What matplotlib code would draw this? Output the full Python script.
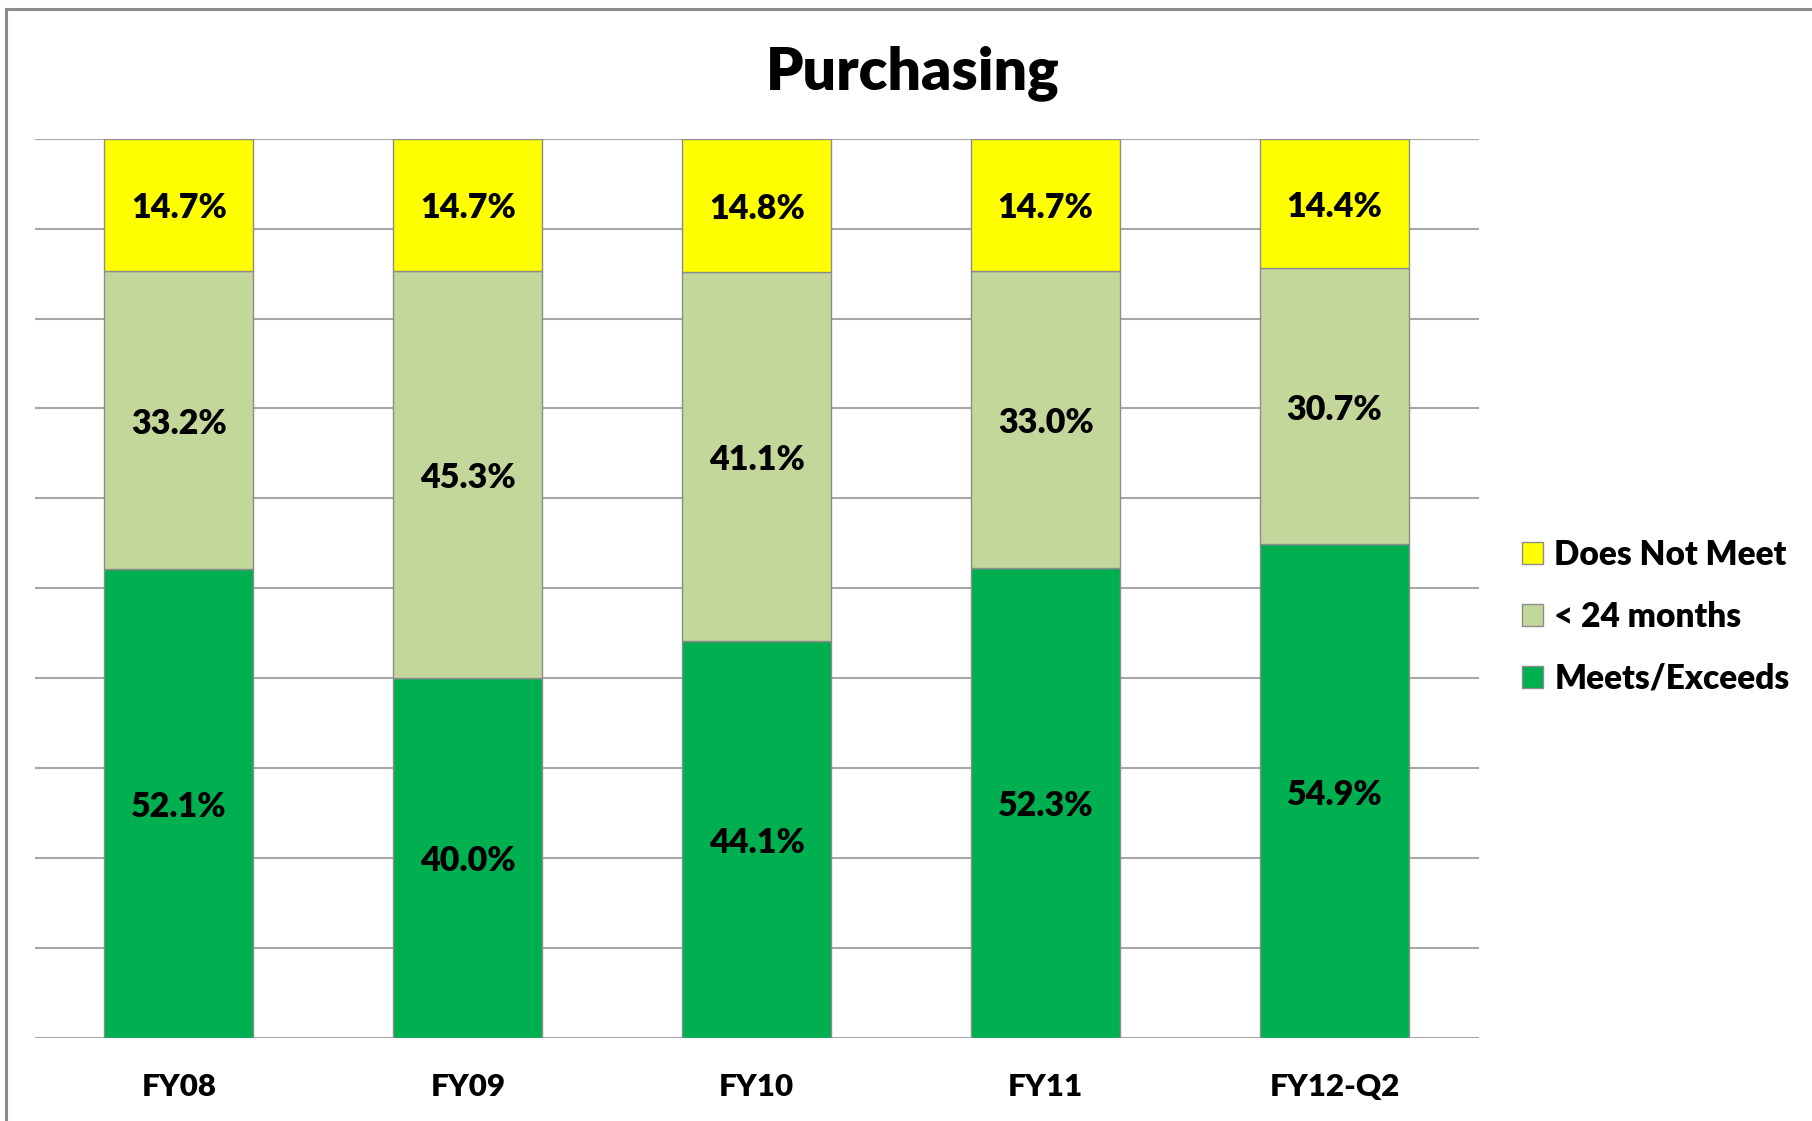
import matplotlib
matplotlib.use("Agg")
import matplotlib.pyplot as plt
from matplotlib.patches import Rectangle
import numpy as np

categories = ["FY08", "FY09", "FY10", "FY11", "FY12-Q2"]
meets = [52.1, 40.0, 44.1, 52.3, 54.9]
under24 = [33.2, 45.3, 41.1, 33.0, 30.7]
not_meet = [14.7, 14.7, 14.8, 14.7, 14.4]
series_names = ["Meets/Exceeds", "< 24 months", "Does Not Meet"]
colors = ["#00B050", "#C4D79B", "#FFFF00"]

plt.rcParams['font.family'] = ['Lato', 'DejaVu Sans']

W, H = 1812, 1121
fig = plt.figure(figsize=(W / 100, H / 100), dpi=100)
ax = fig.add_axes([34.5 / W, 1 - 1037.7 / H, (1479 - 34.5) / W, (1037.7 - 138.7) / H])

# outer chart border (left/top visible)
fig.patches.append(Rectangle((5.5 / W, -0.5), 1.5, 1.5 - 8.5 / H, transform=fig.transFigure,
                             fill=False, edgecolor="#8c8c8c", linewidth=2.2))

x = np.arange(len(categories))
width = 0.516
bottom = np.zeros(len(categories))
handles = []
for vals, name, col in zip([meets, under24, not_meet], series_names, colors):
    vals = np.array(vals)
    b = ax.bar(x, vals, width, bottom=bottom, color=col, edgecolor="#8c8c8c",
               linewidth=1.0, label=name, zorder=3)
    handles.append(b)
    for xi, v, bt in zip(x, vals, bottom):
        ax.text(xi, bt + v / 2 - 0.4, f"{v:.1f}%", ha="center", va="center",
                fontsize=24.5, fontweight="heavy", color="black", zorder=4)
    bottom += vals

ax.set_xlim(-0.5, len(categories) - 0.5)
ax.set_ylim(0, 100)
ax.set_yticks(np.arange(0, 101, 10))
ax.yaxis.grid(True, color="#a6a6a6", linewidth=1.5, zorder=0)
ax.set_axisbelow(True)
ax.tick_params(axis="y", left=False, labelleft=False)
ax.tick_params(axis="x", bottom=False, pad=22)
ax.set_xticks(x)
ax.set_xticklabels(categories, fontsize=22.5, fontweight="heavy")
for s in ax.spines.values():
    s.set_visible(False)

fig.text(913 / W, 1 - 73.5 / H, "Purchasing", ha="center", va="center",
         fontsize=42.5, fontweight="heavy")

leg = ax.legend(handles[::-1], series_names[::-1], loc="center left",
                bbox_to_anchor=(1522 / W, 1 - 617 / H), bbox_transform=fig.transFigure,
                frameon=False, prop={"weight": "heavy", "size": 24},
                handlelength=0.62, handleheight=0.62, handletextpad=0.35,
                labelspacing=0.9, borderpad=0, borderaxespad=0)

fig.savefig("out.png", dpi=100)
